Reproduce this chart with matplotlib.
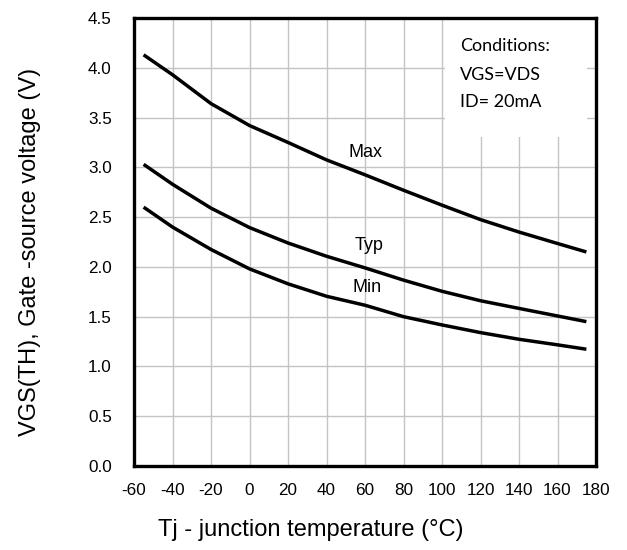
import matplotlib
matplotlib.use("Agg")
import matplotlib.pyplot as plt
from matplotlib.patches import Rectangle

temp = [-55, -40, -20, 0, 20, 40, 60, 80, 100, 120, 140, 160, 175]
v_max = [4.13, 3.93, 3.64, 3.42, 3.25, 3.075, 2.925, 2.77, 2.62, 2.475, 2.35, 2.235, 2.15]
v_typ = [3.03, 2.83, 2.59, 2.395, 2.24, 2.107, 1.99, 1.867, 1.755, 1.66, 1.583, 1.507, 1.45]
v_min = [2.60, 2.40, 2.175, 1.98, 1.83, 1.705, 1.615, 1.50, 1.417, 1.34, 1.273, 1.217, 1.173]
x_ticks = list(range(-60, 181, 20))
y_ticks = [0.0, 0.5, 1.0, 1.5, 2.0, 2.5, 3.0, 3.5, 4.0, 4.5]
conditions = ["Conditions:", "VGS=VDS", "ID= 20mA"]

plt.rcParams['font.family'] = ['Liberation Sans', 'DejaVu Sans']

fig = plt.figure(figsize=(6.27, 5.5), dpi=100)
ax = fig.add_axes([134/627, 1-466/550, (596-134)/627, (466-18)/550])

ax.set_xlim(-60, 180)
ax.set_ylim(0, 4.5)
ax.set_xticks(x_ticks)
ax.set_yticks(y_ticks)
ax.set_xticklabels([str(t) for t in x_ticks])
ax.set_yticklabels([f"{v:.1f}" for v in y_ticks])
ax.tick_params(axis='both', length=0, labelsize=12.3)
ax.tick_params(axis='x', pad=12)
ax.tick_params(axis='y', pad=16)
ax.set_axisbelow(True)
ax.grid(True, color='#c4c4c4', linewidth=1.0)
for s in ax.spines.values():
    s.set_linewidth(2.4)
    s.set_color('black')

ax.add_patch(Rectangle((101.5, 3.3), 74, 1.25, facecolor='white', edgecolor='none', zorder=1))

for v in (v_max, v_typ, v_min):
    ax.plot(temp, v, color='black', linewidth=2.5, zorder=3,
            solid_capstyle='butt', solid_joinstyle='round')

ax.text(60.0, 3.15, "Max", ha='center', va='center', fontsize=13)
ax.text(62.0, 2.21, "Typ", ha='center', va='center', fontsize=13)
ax.text(61.3, 1.79, "Min", ha='center', va='center', fontsize=13)

for txt, yv in zip(conditions, [4.22, 3.93, 3.66]):
    ax.text(109.4, yv, txt, ha='left', va='center', fontsize=13,
            family=['Lato', 'DejaVu Sans'], zorder=4)

fig.text(311/627, 1-530/550, "Tj - junction temperature (°C)", fontsize=17,
         ha='center', va='center')
fig.text(30/627, 1-252/550, "VGS(TH), Gate -source voltage (V)", fontsize=17,
         ha='center', va='center', rotation=90)

fig.savefig("out.png", dpi=100)
